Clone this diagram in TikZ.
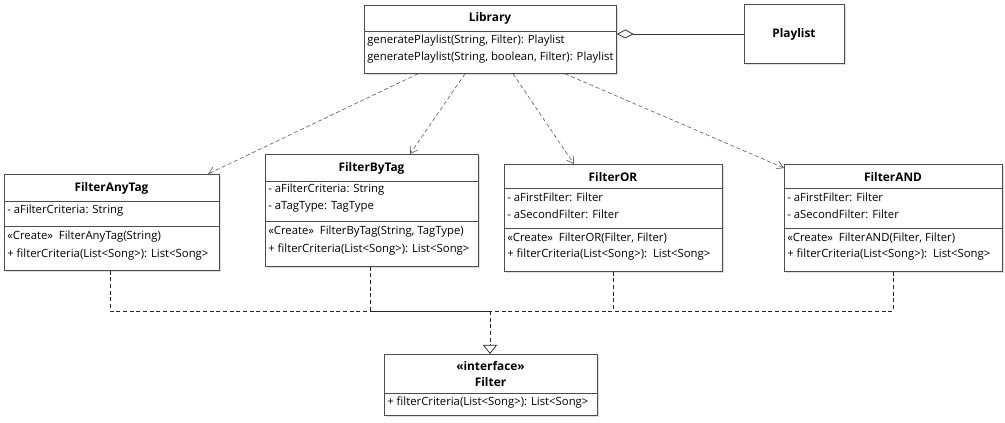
\documentclass[tikz,border=0pt]{standalone}
\usepackage{fontspec}
\setmainfont{Open Sans}
\usetikzlibrary{arrows.meta,calc,shadows}
\begin{document}
\begin{tikzpicture}[x=0.75pt,y=-0.75pt,
  every node/.style={font=\fontsize{8.5}{10}\selectfont},
  cls/.style={draw=black!70,fill=white,line width=0.6pt,anchor=north west,inner sep=0pt,
    drop shadow={shadow xshift=1.2pt,shadow yshift=-1.2pt,opacity=0.25}},
  txt/.style={anchor=west,inner sep=0pt},
  ttl/.style={anchor=center,inner sep=0pt,font=\fontsize{8.9}{10}\selectfont\bfseries},
  sep/.style={draw=black!70,line width=0.6pt},
  dep/.style={draw=black!65,dashed,dash pattern=on 3pt off 2pt,line width=0.45pt,-{Straight Barb[length=5pt,width=6pt]}},
  real/.style={draw=black!85,dashed,dash pattern=on 3pt off 2pt,line width=0.55pt},
  agg/.style={draw=black!80,line width=0.6pt}
]
\useasboundingbox (0,0) rectangle (1005,423);
\fill[white] (0,0) rectangle (1005,423);

% Library
\node[cls,minimum width=252*0.75pt,minimum height=68*0.75pt] (lib) at (364,5) {};
\node[ttl] (libt) at (490,18) {Library};
\draw[sep] (364,31) -- (616,31);
\node[txt] (lib1) at (367,41) {generatePlaylist(String, Filter): Playlist};
\node[txt] (lib2) at (367,58) {generatePlaylist(String, boolean, Filter): Playlist};

% Playlist
\node[cls,minimum width=100*0.75pt,minimum height=59*0.75pt] (pl) at (744,4) {};
\node[ttl] (plt) at (794,34) {Playlist};

% FilterAnyTag
\node[cls,minimum width=215*0.75pt,minimum height=96*0.75pt] (fat) at (4,174) {};
\node[ttl] (fatt) at (111.5,188) {FilterAnyTag};
\draw[sep] (4,201) -- (219,201);
\node[txt] (fat1) at (7,211) {- aFilterCriteria: String};
\draw[sep] (4,226) -- (219,226);
\node[txt] (fat2) at (7,237) {«Create»\ \ FilterAnyTag(String)};
\node[txt] (fat3) at (7,255) {+ filterCriteria(List<Song>): List<Song>};

% FilterByTag
\node[cls,minimum width=213*0.75pt,minimum height=112*0.75pt] (fbt) at (265,154) {};
\node[ttl] (fbtt) at (371.5,168) {FilterByTag};
\draw[sep] (265,181) -- (478,181);
\node[txt] (fbt1) at (268,190) {- aFilterCriteria: String};
\node[txt] (fbt2) at (268,207) {- aTagType: TagType};
\draw[sep] (265,221) -- (478,221);
\node[txt] (fbt3) at (268,232) {«Create»\ \ FilterByTag(String, TagType)};
\node[txt] (fbt4) at (268,250) {+ filterCriteria(List<Song>): List<Song>};

% FilterOR
\node[cls,minimum width=218*0.75pt,minimum height=107*0.75pt] (for) at (504,164) {};
\node[ttl] (fort) at (613,177) {FilterOR};
\draw[sep] (504,188) -- (722,188);
\node[txt] (for1) at (507,197) {- aFirstFilter: Filter};
\node[txt] (for2) at (507,214) {- aSecondFilter: Filter};
\draw[sep] (504,228) -- (722,228);
\node[txt] (for3) at (507,238) {«Create»\ \ FilterOR(Filter, Filter)};
\node[txt] (for4) at (507,255) {+ filterCriteria(List<Song>):\ \ List<Song>};

% FilterAND
\node[cls,minimum width=218*0.75pt,minimum height=107*0.75pt] (fand) at (784,164) {};
\node[ttl] (fandt) at (893,177) {FilterAND};
\draw[sep] (784,188) -- (1002,188);
\node[txt] (fand1) at (787,197) {- aFirstFilter: Filter};
\node[txt] (fand2) at (787,214) {- aSecondFilter: Filter};
\draw[sep] (784,228) -- (1002,228);
\node[txt] (fand3) at (787,238) {«Create»\ \ FilterAND(Filter, Filter)};
\node[txt] (fand4) at (787,255) {+ filterCriteria(List<Song>):\ \ List<Song>};

% Filter interface
\node[cls,minimum width=213*0.75pt,minimum height=61*0.75pt] (fil) at (384,354) {};
\node[ttl] (filt1) at (490.5,366) {«interface»};
\node[ttl] (filt2) at (490.5,382) {Filter};
\draw[sep] (384,393) -- (597,393);
\node[txt] (fil1) at (387,403) {+ filterCriteria(List<Song>): List<Song>};

% aggregation
\draw[agg,{Diamond[open,fill=white,length=17pt*0.75,width=9pt*0.75]}-] (lib.east |- 0,34) -- (pl.west |- 0,34);

% dependencies
\draw[dep] ($(lib.south west)+(54,0)$) -- ($(fat.north west)+(204,0)$);
\draw[dep] ($(lib.south west)+(101,0)$) -- ($(fbt.north west)+(145,0)$);
\draw[dep] ($(lib.south west)+(149,0)$) -- ($(for.north west)+(70,0)$);
\draw[dep] ($(lib.south west)+(201,0)$) -- ($(fand.north west)+(0,4)$);

% realizations
\coordinate (j) at (490,311);
\draw[real] ($(fat.south west)+(106,0)$) |- (j);
\draw[real] ($(fbt.south west)+(105,0)$) |- (j);
\draw[real] ($(for.south west)+(109,0)$) |- (j);
\draw[real] ($(fand.south west)+(109,0)$) |- (j);
\draw[real,-{Triangle[open,fill=white,length=9pt*0.75,width=14pt*0.75]}] (j) -- (fil.north -| j);
\end{tikzpicture}
\end{document}
